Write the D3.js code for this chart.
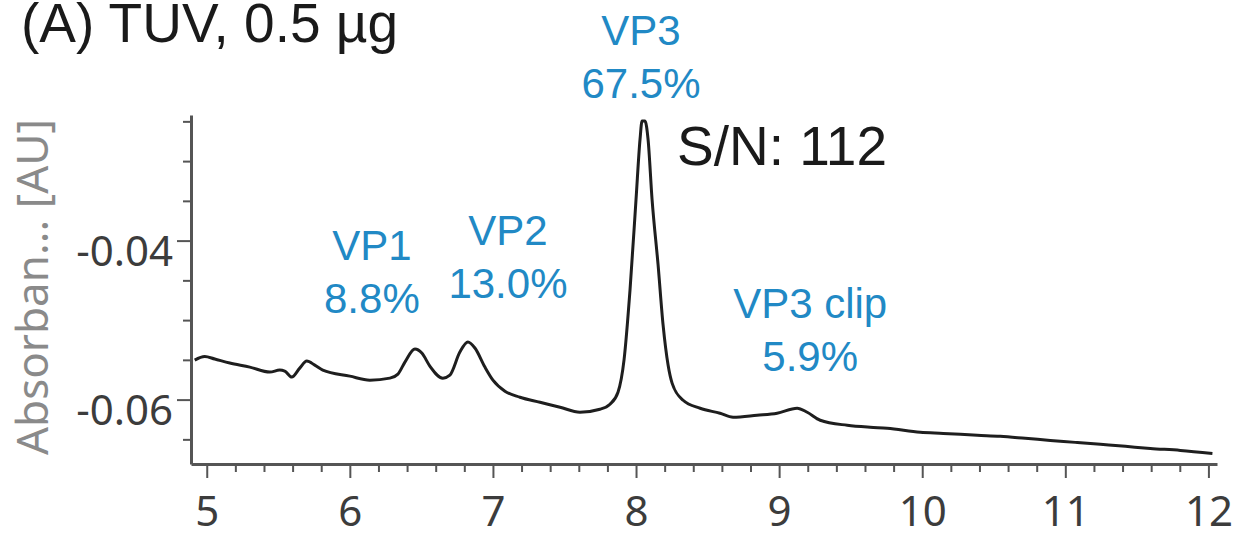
<!DOCTYPE html>
<html>
<head>
<meta charset="utf-8">
<script src="https://cdn.jsdelivr.net/npm/d3@7"></script>
<style>
    body { margin: 0; background: #fff; }
    svg { display: block; }
</style>
</head>
<body>
<div id="svgCanvas"></div>
<script>
const width = 1243, height = 539
const inkBlue = "#2189c5", axisGrey = "#555555"

// trace (retention time [min], absorbance [AU])
const times = [4.916, 4.986, 5.056, 5.161, 5.301, 5.441, 5.510, 5.545, 5.594, 5.650,
    5.699, 5.755, 5.811, 6.000, 6.140, 6.280, 6.336, 6.385, 6.455, 6.503,
    6.559, 6.650, 6.699, 6.769, 6.825, 6.874, 6.944, 7.000, 7.084, 7.189,
    7.329, 7.469, 7.608, 7.748, 7.818, 7.874, 7.916, 7.958, 8.000, 8.028,
    8.042, 8.063, 8.084, 8.112, 8.154, 8.189, 8.224, 8.252, 8.329, 8.448,
    8.587, 8.678, 8.846, 8.986, 9.126, 9.196, 9.287, 9.476, 9.636, 9.755,
    9.986, 10.147, 10.385, 10.545, 10.720, 10.895, 11.070, 11.245, 11.420, 11.594,
    11.804, 12.028]
const absorbance = [-0.05503, -0.05458, -0.05490, -0.05540, -0.05591, -0.05654, -0.05629, -0.05641, -0.05717, -0.05604,
    -0.05515, -0.05566, -0.05629, -0.05705, -0.05755, -0.05730, -0.05679, -0.05528, -0.05364, -0.05414,
    -0.05578, -0.05730, -0.05692, -0.05402, -0.05275, -0.05351, -0.05591, -0.05755, -0.05894, -0.05970,
    -0.06033, -0.06096, -0.06159, -0.06121, -0.06058, -0.05907, -0.05503, -0.04619, -0.03482, -0.02725,
    -0.02497, -0.02497, -0.02725, -0.03482, -0.04303, -0.05061, -0.05566, -0.05793, -0.06008, -0.06109,
    -0.06172, -0.06222, -0.06197, -0.06172, -0.06109, -0.06159, -0.06260, -0.06323, -0.06348, -0.06360,
    -0.06412, -0.06425, -0.06449, -0.06462, -0.06487, -0.06513, -0.06538, -0.06563, -0.06588, -0.06614,
    -0.06639, -0.06677]

// axes
const xDomain = [4.89, 12.06]
const yDomain = [-0.0681, -0.0242]
const xMajorTicks = [5, 6, 7, 8, 9, 10, 11, 12]
const yMajorTicks = [-0.04, -0.06]
const yMinorTicks = [-0.065, -0.055, -0.05, -0.045, -0.035, -0.03, -0.025]

// peak annotations: name, area %, label anchor (time, absorbance)
const peakNames = ["VP1", "VP2", "VP3", "VP3 clip"]
const peakPercents = ["8.8%", "13.0%", "67.5%", "5.9%"]
const peakLabelTimes = [6.154, 7.105, 8.035, 9.217]
const peakLabelAbs = [-0.0424, -0.0405, -0.01538, -0.04972]

const title = "(A) TUV, 0.5 µg"
const yTitle = "Absorban... [AU]"
const snText = "S/N: 112", snTime = 8.287, snAbs = -0.03053

const xScale = d3.scaleLinear().domain(xDomain).range([191, 1217])
const yScale = d3.scaleLinear().domain(yDomain).range([464, 115])

let svg = d3.select("#svgCanvas")
    .append("svg")
    .attr("xmlns", "http://www.w3.org/2000/svg")
    .attr("width", width)
    .attr("height", height)

svg.append("rect").attr("width", width).attr("height", height).attr("fill", "#fff")

// minor ticks every 0.2 min
let xMinor = d3.range(25, 61).map(d => d / 5).filter(d => !xMajorTicks.includes(d))

function styleAxis(g) {
    g.select(".domain").attr("stroke", axisGrey).attr("stroke-width", 3)
    g.selectAll(".tick line").attr("stroke", axisGrey).attr("stroke-width", 2)
    g.selectAll(".tick text")
        .attr("fill", "#3c3c3c")
        .style("font-family", "'Noto Sans', sans-serif")
        .style("font-size", "42px")
}

// x axis
let xAxisG = svg.append("g")
    .attr("transform", "translate(0,464)")
    .call(d3.axisBottom(xScale).tickValues(xMajorTicks).tickSize(14).tickSizeOuter(0).tickPadding(18).tickFormat(d3.format("d")))
styleAxis(xAxisG)

svg.append("g")
    .attr("transform", "translate(0,464)")
    .call(d3.axisBottom(xScale).tickValues(xMinor).tickSize(8).tickFormat(""))
    .call(g => g.select(".domain").remove())
    .selectAll("line").attr("stroke", axisGrey).attr("stroke-width", 2)

// y axis
let yAxisG = svg.append("g")
    .attr("transform", "translate(191,0)")
    .call(d3.axisLeft(yScale).tickValues(yMajorTicks).tickSize(14).tickSizeOuter(0).tickPadding(4).tickFormat(d3.format(".2f")))
styleAxis(yAxisG)
yAxisG.selectAll(".tick text").attr("dy", "0.6em")
    .text(d => d3.format(".2f")(d).replace("−", "-"))

svg.append("g")
    .attr("transform", "translate(191,0)")
    .call(d3.axisLeft(yScale).tickValues(yMinorTicks).tickSize(8).tickFormat(""))
    .call(g => g.select(".domain").remove())
    .selectAll("line").attr("stroke", axisGrey).attr("stroke-width", 2)

// y title
svg.append("text")
    .attr("transform", "translate(48,287) rotate(-90)")
    .attr("text-anchor", "middle")
    .attr("fill", "#8a8a8a")
    .style("font-family", "'Noto Sans', sans-serif")
    .style("font-size", "44px")
    .text(yTitle)

// trace
let trace = times.map((t, i) => [t, absorbance[i]])
svg.append("path")
    .datum(trace)
    .attr("fill", "none")
    .attr("stroke", "#1e1e1e")
    .attr("stroke-width", 3)
    .attr("stroke-linejoin", "round")
    .attr("d", d3.line()
        .x(d => xScale(d[0]))
        .y(d => yScale(d[1]))
        .curve(d3.curveMonotoneX))

// peak labels
peakNames.forEach((name, i) => {
    let t = svg.append("text")
        .attr("x", xScale(peakLabelTimes[i]))
        .attr("y", yScale(peakLabelAbs[i]))
        .attr("text-anchor", "middle")
        .attr("fill", inkBlue)
        .style("font-family", "'Liberation Sans', Arial, sans-serif")
        .style("font-size", "42px")
    t.append("tspan").text(name)
    t.append("tspan")
        .attr("x", xScale(peakLabelTimes[i]))
        .attr("dy", 53)
        .text(peakPercents[i])
})

// S/N
svg.append("text")
    .attr("x", xScale(snTime))
    .attr("y", yScale(snAbs))
    .attr("fill", "#1a1a1a")
    .style("font-family", "'Liberation Sans', Arial, sans-serif")
    .style("font-size", "55px")
    .text(snText)

// panel title
svg.append("text")
    .attr("x", 21)
    .attr("y", 42)
    .attr("fill", "#1a1a1a")
    .style("font-family", "'Liberation Sans', Arial, sans-serif")
    .style("font-size", "55px")
    .text(title)
</script>
</body>
</html>
